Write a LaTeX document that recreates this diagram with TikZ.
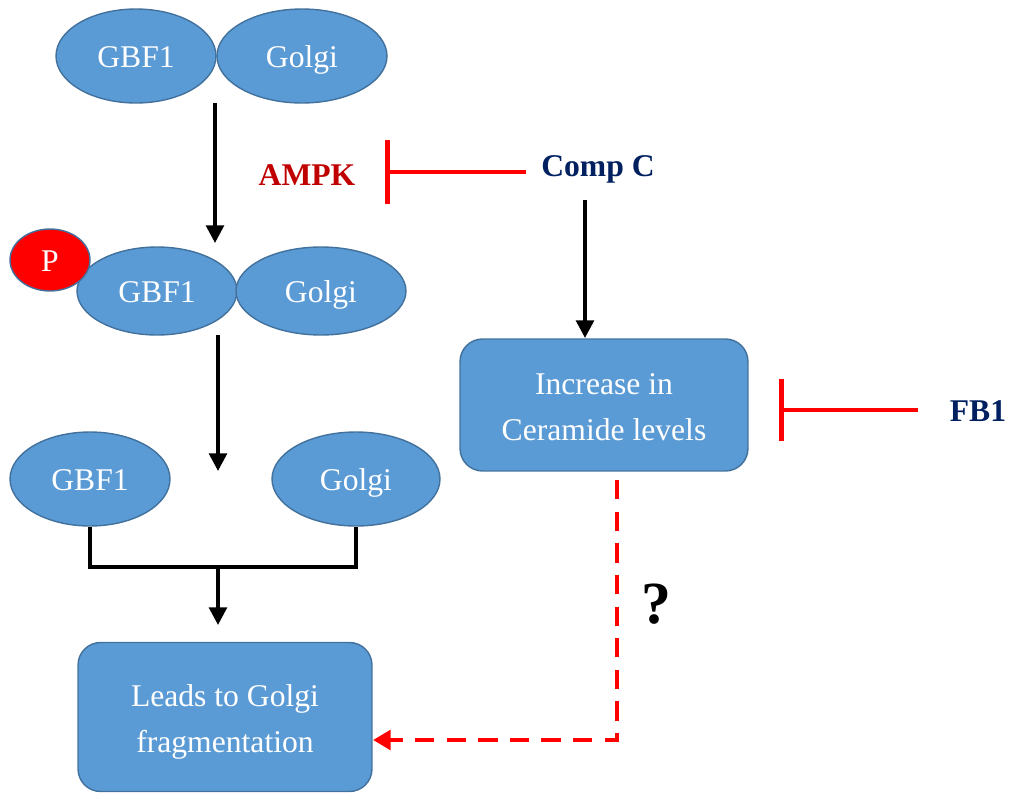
\documentclass[tikz,border=0pt]{standalone}
\usepackage{fontspec}
\setmainfont{Liberation Serif}
\usetikzlibrary{shapes.geometric,arrows.meta}
\definecolor{blueA}{HTML}{5B9BD5}
\definecolor{bordA}{HTML}{41719C}
\definecolor{navyA}{HTML}{002060}
\definecolor{darkredA}{HTML}{C00000}
\begin{document}
\begin{tikzpicture}[x=0.02cm,y=-0.02cm,
  ell/.style={ellipse, draw=bordA, fill=blueA, line width=0.8pt, inner sep=0pt, text=white, text height=14pt, text depth=1pt, font=\fontsize{18}{22}\selectfont},
  boxA/.style={rectangle, rounded corners=0.45cm, draw=bordA, fill=blueA, line width=0.8pt, inner sep=0pt},
  boxtxt/.style={text=white, align=center, inner sep=0pt, font=\fontsize{18}{26}\selectfont},
  arr/.style={line width=2.1pt, -{Triangle[width=10pt,length=10pt]}},
  inh/.style={red, line width=2.6pt},
  lab/.style={font=\bfseries\fontsize{18}{22}\selectfont, inner sep=0pt}]
\useasboundingbox (0,0) rectangle (1009,795);

% top pair
\node[ell, minimum width=3.2cm, minimum height=1.88cm] (g1) at (136,56) {GBF1};
\node[ell, minimum width=3.4cm, minimum height=1.88cm] (o1) at (302,56) {Golgi};

% middle pair
\node[ell, minimum width=3.2cm, minimum height=1.76cm] (g2) at (157,291) {GBF1};
\node[ell, minimum width=3.4cm, minimum height=1.76cm] (o2) at (321,291) {Golgi};
\node[ell, fill=red, minimum width=1.6cm, minimum height=1.24cm] (p) at (50,260) {P};

% bottom pair
\node[ell, minimum width=3.2cm, minimum height=1.88cm] (g3) at (90,479) {GBF1};
\node[ell, minimum width=3.36cm, minimum height=1.88cm] (o3) at (356,479) {Golgi};

% boxes
\node[boxA, minimum width=5.76cm, minimum height=2.64cm] (cer) at (604,405) {};
\node[boxtxt] (certxt) at (604,407) {Increase in\\Ceramide levels};
\node[boxA, minimum width=5.88cm, minimum height=2.98cm] (lead) at (225,717) {};
\node[boxtxt] (leadtxt) at (225,722) {Leads to Golgi\\fragmentation};

% labels
\node[lab, text=darkredA] (ampk) at (307,175) {AMPK};
\node[lab, text=navyA] (cc) at (598,169) {Comp C};
\node[lab, text=navyA] (fb) at (978,411) {FB1};
\node[font=\bfseries\fontsize{34}{40}\selectfont, inner sep=0pt] (q) at (656,604) {?};

% vertical arrows
\coordinate (a1s) at (215,103);
\coordinate (a1e) at (215,243);
\draw[arr] (a1s) -- (a1e);
\coordinate (a2s) at (218,335);
\coordinate (a2e) at (218,471);
\draw[arr] (a2s) -- (a2e);

% join
\coordinate (jn) at (218,567);
\coordinate (a3e) at (218,625);
\draw[line width=2.1pt] (g3.south) -- (g3.south |- jn) -- (o3.south |- jn) -- (o3.south);
\draw[arr] (jn) -- (a3e);

% Comp C to ceramide
\coordinate (ccs) at (585,200);
\coordinate (cce) at (585,338);
\draw[arr] (ccs) -- (cce);

% inhibitions
\coordinate (ampkR) at (526,172);
\coordinate (ampkL) at (385,172);
\draw[inh, -{Bar[width=1.3cm]}] (ampkR) -- (ampkL);
\coordinate (fbR) at (918,410);
\coordinate (fbL) at (779,410);
\draw[inh, -{Bar[width=1.24cm]}] (fbR) -- (fbL);

% dashed question path
\coordinate (ds) at (617,480);
\coordinate (de) at (373,740);
\draw[red, line width=2.6pt, dash pattern=on 11pt off 7pt, -{Triangle[width=11pt,length=10pt]}] (ds) |- (de);
\end{tikzpicture}
\end{document}
